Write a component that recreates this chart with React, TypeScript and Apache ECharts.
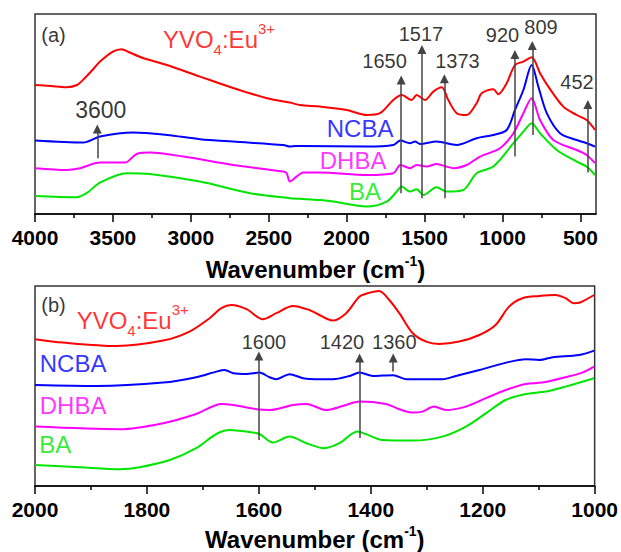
import React, { useEffect, useRef } from 'react';
import * as echarts from 'echarts';

const FONT = '"Liberation Sans", Arial, Helvetica, sans-serif';

// ---------- Panel (a): 4000 - 400 cm-1 (stacked, arbitrary units) ----------
const yvoA: [number, number][] = [
  [4000, 64.5], [3900, 64], [3800, 63.4], [3730, 64.5], [3680, 68], [3620, 73], [3583, 76.2], [3500, 81.2], [3444, 82.4],
  [3400, 81], [3307, 78], [3153, 74.5], [2941, 68.7], [2729, 63], [2511, 57.9], [2364, 55.7], [2299, 54.5],
  [2171, 53.7], [2000, 52], [1871, 49.5], [1786, 50.4], [1701, 57], [1647, 59.5], [1583, 57], [1551, 59.5],
  [1497, 57], [1444, 61.2], [1390, 63.4], [1348, 57], [1294, 50.4], [1230, 49.5], [1166, 55.4], [1134, 60.4],
  [1059, 62.4], [1027, 59.9], [973, 65.4], [920, 74.5], [866, 76.2], [813, 78.4], [759, 70.4], [706, 63.7],
  [610, 53.7], [524, 49.5], [460, 47], [406, 42],
];
const ncbaA: [number, number][] = [
  [4000, 36.7], [3690, 35.7], [3583, 38.7], [3370, 40.7], [3153, 39.5], [2941, 37.4], [2729, 36.2], [2407, 34.5],
  [2364, 33.7], [2330, 34], [2299, 34], [1871, 33.7], [1701, 34.5], [1655, 36.7], [1594, 35.4], [1561, 36.2],
  [1529, 35], [1423, 36.2], [1294, 34.5], [1166, 37.9], [1059, 39.5], [973, 42], [920, 52], [866, 62],
  [813, 74.5], [770, 63.7], [716, 50.4], [631, 40.4], [524, 37], [460, 35.4], [406, 33.7],
];
const dhbaA: [number, number][] = [
  [4000, 22.9], [3797, 22], [3711, 22.9], [3583, 25.7], [3423, 25.7], [3348, 30], [3262, 30.7], [3048, 28.7],
  [2729, 24.5], [2407, 21.2], [2385, 20.4], [2364, 16.2], [2321, 18.7], [2278, 20.7], [2171, 20.7], [1871, 19.5],
  [1701, 20.4], [1655, 24.5], [1594, 22.9], [1551, 24.5], [1487, 23.7], [1423, 25], [1359, 23.7], [1316, 22.9],
  [1230, 24.5], [1144, 28.7], [1016, 32.9], [930, 40.4], [866, 50.4], [813, 57.9], [759, 47], [674, 37],
  [524, 32], [460, 29.5], [406, 25.4],
];
const baA: [number, number][] = [
  [4000, 9], [3733, 8.4], [3669, 10.4], [3583, 15.7], [3412, 20.4], [3262, 20], [2941, 16.2], [2620, 10.4],
  [2364, 7.9], [2299, 7.6], [2171, 7], [2086, 6.2], [1871, 3.7], [1743, 6.2], [1679, 11.2], [1647, 13.7],
  [1594, 11.2], [1551, 12.4], [1508, 9.5], [1423, 13.4], [1359, 11.2], [1252, 12], [1166, 20.4], [1059, 23.7],
  [930, 35.4], [866, 41.2], [813, 45.4], [759, 40.4], [652, 32], [524, 26.2], [460, 23.7], [406, 19.5],
];

// ---------- Panel (b): 2000 - 1000 cm-1 ----------
const yvoB: [number, number][] = [
  [2000, 73.4], [1950, 71.7], [1854, 70], [1771, 72.7], [1724, 77.2], [1688, 83.9], [1667, 88.9], [1649, 90.5],
  [1622, 88.4], [1593, 83.4], [1569, 86.4], [1539, 90], [1510, 88], [1495, 86], [1468, 82.7], [1444, 86.4],
  [1420, 94.7], [1402, 96.7], [1385, 97.5], [1367, 93], [1349, 86.4], [1325, 76.4], [1301, 72.2], [1278, 71],
  [1242, 72.2], [1206, 75.5], [1177, 80.5], [1153, 89.7], [1129, 93.9], [1099, 95], [1070, 95.5], [1052, 93.9],
  [1037, 91.4], [1025, 91.9], [1001, 95.5],
];
const ncbaB: [number, number][] = [
  [2000, 50.5], [1890, 50], [1771, 51.7], [1712, 54.4], [1676, 57.2], [1661, 58], [1646, 56.4], [1622, 56],
  [1599, 56.7], [1581, 54.4], [1569, 53.4], [1545, 55.9], [1521, 53.9], [1492, 53.4], [1468, 53.4], [1438, 55],
  [1420, 56.7], [1396, 55], [1360, 55.4], [1337, 53.4], [1272, 53.4], [1248, 55], [1206, 58], [1158, 61.7],
  [1123, 63.4], [1099, 63], [1075, 64.4], [1028, 65.5], [1001, 67.7],
];
const dhbaB: [number, number][] = [
  [2000, 29.7], [1848, 28.4], [1771, 31.4], [1712, 36], [1667, 41], [1646, 40.5], [1604, 38.4], [1581, 38],
  [1539, 40.5], [1515, 41], [1480, 38], [1450, 40], [1420, 42.2], [1373, 41], [1349, 38.4], [1325, 36.7],
  [1308, 37.2], [1287, 39.7], [1266, 38], [1230, 39.7], [1194, 43.9], [1159, 48], [1123, 51], [1094, 51.7],
  [1052, 54.4], [1022, 56.7], [1001, 59.7],
];
const baB: [number, number][] = [
  [2000, 10.5], [1920, 9.4], [1848, 8.4], [1813, 9.4], [1759, 13], [1712, 18.9], [1676, 26], [1652, 28],
  [1622, 27.2], [1599, 26], [1575, 21.7], [1545, 24.7], [1515, 21.4], [1483, 18.9], [1456, 21.4], [1424, 27.2],
  [1409, 26], [1379, 23], [1325, 22.7], [1272, 24.7], [1230, 29.7], [1194, 36.4], [1159, 43], [1123, 46],
  [1087, 47.2], [1052, 49.7], [1001, 53.9],
];

// ---------- ticks ----------
const A_MAJOR = [4000, 3500, 3000, 2500, 2000, 1500, 1000, 500];
const A_MINOR = [3750, 3250, 2750, 2250, 1750, 1250, 750];
const B_MAJOR = [2000, 1800, 1600, 1400, 1200, 1000];
const B_MINOR = [1900, 1700, 1500, 1300, 1100];

// ---------- annotations ----------
// arrows: [label, wavenumber, tail, head]
const arrowsA: [string, number, number, number][] = [
  ['3600', 3600, 27.9, 42.5], ['1650', 1650, 10.4, 67], ['1517', 1517, 7.9, 82.3], ['1373', 1373, 7.9, 67.6],
  ['920', 920, 28.7, 79.8], ['809', 809, 39.5, 84.3], ['452', 452, 20.7, 54.8],
];
// labels: [text, wavenumber, y, fontSize]
const arrowLabelsA: [string, number, number, number][] = [
  ['3600', 3578, 52, 23], ['1650', 1757, 76.5, 20], ['1517', 1523, 90, 20], ['1373', 1289, 76.5, 20],
  ['920', 1000, 89.3, 20], ['809', 753, 93.3, 20], ['452', 522, 66, 20],
];
const arrowsB: [string, number, number, number][] = [
  ['1600', 1600, 23, 65], ['1420', 1420, 24, 64], ['1360', 1360, 57.2, 64],
];
const arrowLabelsB: [string, number, number, number][] = [
  ['1600', 1591, 72.25, 20], ['1420', 1451.6, 72, 20], ['1360', 1358, 72, 20],
];

const COLORS = { yvo: '#ff0000', ncba: '#0000ff', dhba: '#ff00ff', ba: '#00e600' };

export default function App() {
  const ref = useRef<HTMLDivElement>(null);
  useEffect(() => {
    document.body.style.margin = '0';
    if (!ref.current) return;
    const chart = echarts.init(ref.current, null, { renderer: 'svg' });

    const grids = [
      { left: 35, right: 25, top: 14, height: 200 },
      { left: 35, right: 25, top: 286, height: 200 },
    ].map((g) => ({ ...g, show: true, borderColor: '#333', borderWidth: 1.5, backgroundColor: 'transparent' }));

    const titleRich = {
      t: { fontSize: 24, fontWeight: 'bold', color: '#000', fontFamily: FONT, lineHeight: 30, verticalAlign: 'middle' },
      s: { fontSize: 14, fontWeight: 'bold', color: '#000', fontFamily: FONT, lineHeight: 20, verticalAlign: 'top' },
    };
    const mainX = (gi: number, min: number, max: number, major: number[], gap: number) => ({
      type: 'value', gridIndex: gi, min, max, inverse: true, position: 'bottom',
      axisLine: { show: true, onZero: false, lineStyle: { color: '#000', width: 1.5 } },
      axisTick: { show: true, inside: false, length: 8, customValues: major, lineStyle: { color: '#000', width: 1.5 } },
      axisLabel: {
        show: true, customValues: major, fontSize: 21, fontWeight: 'bold', color: '#000', fontFamily: FONT, margin: 13,
        formatter: (v: number) => String(v),
      },
      splitLine: { show: false },
      name: '{t|Wavenumber (cm}{s|-1}{t|)}',
      nameLocation: 'middle', nameGap: gap,
      nameTextStyle: { rich: titleRich },
    });
    const minorX = (gi: number, min: number, max: number, minor: number[]) => ({
      type: 'value', gridIndex: gi, min, max, inverse: true, position: 'bottom',
      axisLine: { show: false, onZero: false },
      axisTick: { show: true, inside: false, length: 4, customValues: minor, lineStyle: { color: '#000', width: 1.5 } },
      axisLabel: { show: false },
      splitLine: { show: false },
    });

    const line = (name: string, data: [number, number][], color: string, xi: number, yi: number) => ({
      type: 'line', name, data, xAxisIndex: xi, yAxisIndex: yi, showSymbol: false, symbol: 'none',
      smooth: 0.3, lineStyle: { color, width: 2 }, silent: true, z: 3,
    });

    const yvoRich = (fs: number) => ({
      m: { fontSize: fs, color: COLORS.yvo, fontFamily: FONT, lineHeight: 36, verticalAlign: 'middle' },
      sub: { fontSize: 15, color: COLORS.yvo, fontFamily: FONT, lineHeight: 9, verticalAlign: 'bottom' },
      sup: { fontSize: 15, color: COLORS.yvo, fontFamily: FONT, lineHeight: 29, verticalAlign: 'top' },
    });

    const txt = (text: string, wn: number, y: number, color: string, fs: number) => ({
      value: [wn, y],
      label: { show: true, position: 'inside', formatter: text, color, fontSize: fs, fontFamily: FONT },
    });

    const labelSeries = (
      xi: number, yi: number, panel: string,
      pos: { p: [number, number]; yvo: [number, number]; ncba: [number, number]; dhba: [number, number]; ba: [number, number] },
      arrows: [string, number, number, number][], arrowLabels: [string, number, number, number][],
    ) => ({
      type: 'scatter', xAxisIndex: xi, yAxisIndex: yi, symbolSize: 0, silent: true, z: 5,
      data: [
        txt(panel, pos.p[0], pos.p[1], '#000', 20),
        {
          value: pos.yvo,
          label: { show: true, position: 'right', distance: 0, formatter: '{m|YVO}{sub|4}{m|:Eu}{sup|3+}', rich: yvoRich(24) },
        },
        txt('NCBA', pos.ncba[0], pos.ncba[1], COLORS.ncba, 24),
        txt('DHBA', pos.dhba[0], pos.dhba[1], COLORS.dhba, 24),
        txt('BA', pos.ba[0], pos.ba[1], COLORS.ba, 24),
        ...arrowLabels.map(([t, wn, y, fs]) => txt(t, wn, y, '#000', fs)),
      ],
      markLine: {
        silent: true, animation: false,
        symbol: ['none', 'triangle'], symbolSize: 9,
        lineStyle: { color: '#444', width: 1.5, type: 'solid' },
        itemStyle: { color: '#111' },
        label: { show: false },
        emphasis: { disabled: true },
        data: arrows.map(([, wn, t, h]) => [{ coord: [wn, t] }, { coord: [wn, h] }]),
      },
    });

    chart.setOption({
      animation: false,
      grid: grids,
      xAxis: [
        mainX(0, 400, 4000, A_MAJOR, 40), minorX(0, 400, 4000, A_MINOR),
        mainX(1, 1000, 2000, B_MAJOR, 38), minorX(1, 1000, 2000, B_MINOR),
      ],
      yAxis: [
        { type: 'value', gridIndex: 0, min: 0, max: 100, show: false },
        { type: 'value', gridIndex: 1, min: 0, max: 100, show: false },
      ],
      series: [
        line('YVO4:Eu3+ (a)', yvoA, COLORS.yvo, 0, 0),
        line('NCBA (a)', ncbaA, COLORS.ncba, 0, 0),
        line('DHBA (a)', dhbaA, COLORS.dhba, 0, 0),
        line('BA (a)', baA, COLORS.ba, 0, 0),
        line('YVO4:Eu3+ (b)', yvoB, COLORS.yvo, 2, 1),
        line('NCBA (b)', ncbaB, COLORS.ncba, 2, 1),
        line('DHBA (b)', dhbaB, COLORS.dhba, 2, 1),
        line('BA (b)', baB, COLORS.ba, 2, 1),
        labelSeries(0, 0, '(a)',
          { p: [3881, 89.5], yvo: [3179, 87.5], ncba: [1914, 43], dhba: [1959, 26.75], ba: [1882, 11.5] },
          arrowsA, arrowLabelsA),
        labelSeries(2, 1, '(b)',
          { p: [1967, 90.5], yvo: [1925.6, 83], ncba: [1932, 61.25], dhba: [1932, 40.5], ba: [1964, 20.75] },
          arrowsB, arrowLabelsB),
      ],
    });
    return () => chart.dispose();
  }, []);
  return <div ref={ref} style={{ width: 621, height: 552 }} />;
}
